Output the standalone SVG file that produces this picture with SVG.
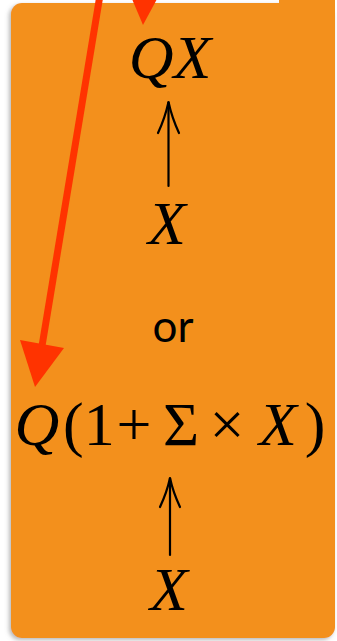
<svg xmlns="http://www.w3.org/2000/svg" width="337" height="641" viewBox="0 0 337 641">
<defs>
<filter id="sh" x="-10%" y="-10%" width="120%" height="120%">
<feDropShadow dx="-2" dy="2" stdDeviation="2" flood-color="#888" flood-opacity="0.6"/>
</filter>
<style>
.m{font-family:"Liberation Serif","DejaVu Serif",serif;font-size:62px;fill:#000}
.i{font-style:italic}
.s{font-family:"Lato","Liberation Sans",sans-serif;font-size:44px;fill:#000}
.ar{fill:none;stroke:#000;stroke-width:2.2;stroke-linecap:round}
.rl{stroke:#ff3300;stroke-width:7;fill:none}
.rh{fill:#ff3300}
</style>
</defs>
<rect width="337" height="641" fill="#fff"/>
<g id="box">
<rect x="11" y="3" width="324" height="635" rx="11" fill="#f3901c" filter="url(#sh)"/>
<rect x="279" y="0" width="56" height="20" fill="#f3901c"/>
</g>
<g id="n1"><text class="m" x="170" y="78" text-anchor="middle"><tspan class="i">Q</tspan><tspan class="i">X</tspan></text></g>
<g id="n2"><text class="m i" x="167" y="244" text-anchor="middle">X</text></g>
<g id="or"><text class="s" x="173" y="342" text-anchor="middle">or</text></g>
<g id="n3">
<text class="m i" x="37" y="445" text-anchor="middle">Q</text>
<text class="m" x="63" y="445">(1</text>
<text class="m" x="134" y="445" text-anchor="middle">+</text>
<text class="m" x="181" y="445" text-anchor="middle">Σ</text>
<text class="m" x="227" y="445" text-anchor="middle">×</text>
<text class="m i" x="278" y="445" text-anchor="middle">X</text>
<text class="m" x="315" y="445" text-anchor="middle">)</text>
</g>
<g id="n4"><text class="m i" x="169" y="610" text-anchor="middle">X</text></g>
<g id="connectors">
<path class="ar" d="M168.5,186 V102"/>
<path class="ar" d="M158,133 Q165,118 168.5,102 Q172,118 179,133"/>
<path class="ar" d="M170,555 V478"/>
<path class="ar" d="M160,507 Q167,492 170,478 Q173,492 180,507"/>
<path class="rl" d="M100,-5 L42,346"/>
<polygon class="rh" points="20,340 64,348 35,387"/>
<polygon class="rh" points="132,-1 157,-1 143,25"/>
</g>
</svg>
